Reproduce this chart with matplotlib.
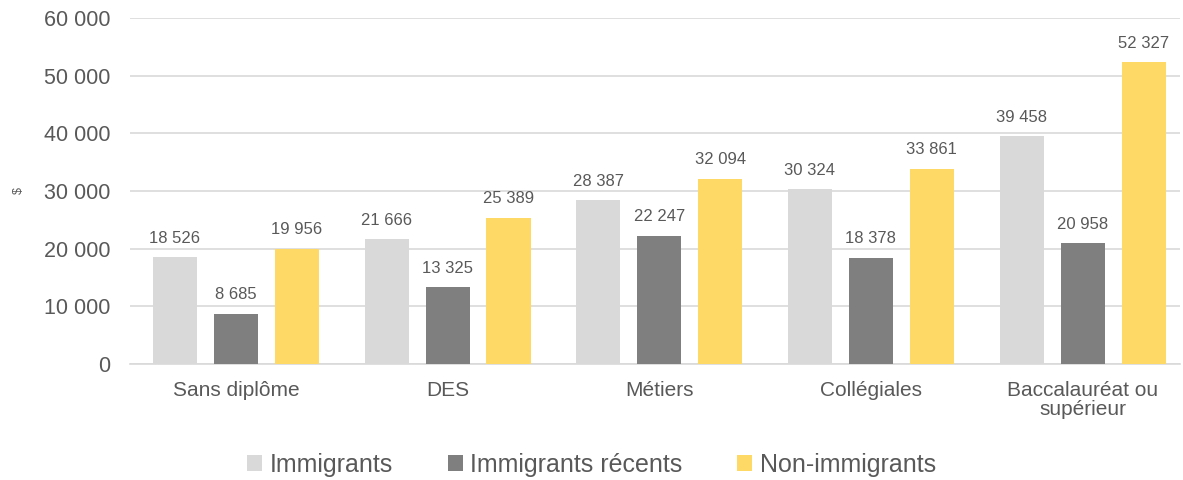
import matplotlib.pyplot as plt
import numpy as np

plt.rcParams['font.family'] = ['Liberation Sans', 'DejaVu Sans']

categories = ['Sans diplôme', 'DES', 'Métiers', 'Collégiales', 'Baccalauréat ou\nsupérieur']
series_names = ['Immigrants', 'Immigrants récents', 'Non-immigrants']
immigrants = [18526, 21666, 28387, 30324, 39458]
recents = [8685, 13325, 22247, 18378, 20958]
non_immigrants = [19956, 25389, 32094, 33861, 52327]
colors = ['#D9D9D9', '#7F7F7F', '#FFD966']
txt = '#595959'


def fmt(v):
    return '{:,}'.format(int(v)).replace(',', ' ')


fig = plt.figure(figsize=(11.83, 4.8), dpi=100)
ax = fig.add_axes([130 / 1183, 1 - 364 / 480, 1050 / 1183, 346 / 480])

x = np.arange(len(categories))
w = 0.208
step = 0.288
for i, (vals, name) in enumerate(zip([immigrants, recents, non_immigrants], series_names)):
    pos = x + (i - 1) * step
    ax.bar(pos, vals, width=w, color=colors[i], label=name, zorder=3)
    for p, v in zip(pos, vals):
        ax.text(p, v + 2000, fmt(v), ha='center', va='bottom', fontsize=12, color=txt)

ax.set_ylim(0, 60000)
ax.set_xlim(-0.5, 4.46)
ax.set_yticks(range(0, 60001, 10000))
ax.set_yticklabels([fmt(v) for v in range(0, 60001, 10000)], fontsize=15.5, color=txt)
ax.set_xticks(x)
ax.set_xticklabels(categories, fontsize=15, color=txt, linespacing=1.0)
ax.tick_params(axis='y', length=0, pad=14)
ax.tick_params(axis='x', length=0, pad=12)
ax.grid(axis='y', color='#D9D9D9', linewidth=1.2, zorder=0)
for s in ['top', 'right', 'left']:
    ax.spines[s].set_visible(False)
ax.spines['bottom'].set_color('#D9D9D9')
ax.spines['bottom'].set_linewidth(1.2)
ax.set_ylabel('$', fontsize=9, color=txt)
ax.yaxis.set_label_coords((25 - 130) / 1050, (364 - 191) / 346)

leg = fig.legend(loc='center', bbox_to_anchor=(0.5, 1 - 465 / 480), ncol=3, frameon=False,
                 fontsize=18, handlelength=0.6, handleheight=0.6, handletextpad=0.3,
                 columnspacing=2.2)
for t in leg.get_texts():
    t.set_color(txt)

fig.savefig('out.png', dpi=100)
